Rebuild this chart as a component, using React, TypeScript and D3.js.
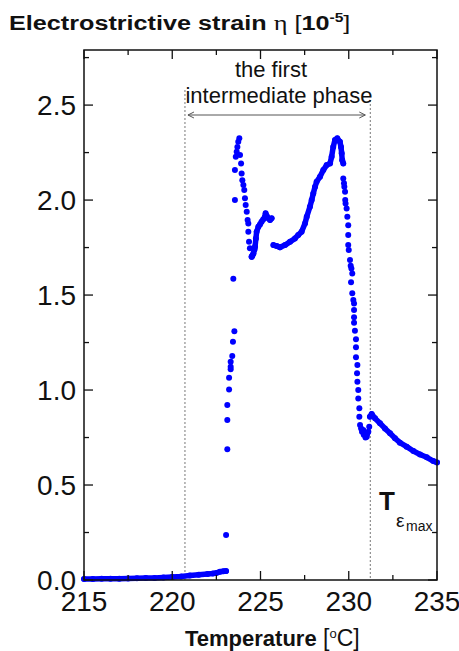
import React from "react";
import * as d3 from "d3";

// ---- data (temperature °C, strain 1e-5) ----
const baselineT = [215.0, 215.5, 216.0, 216.5, 217.0, 217.5, 218.0, 218.5, 219.0, 219.5, 220.0, 220.5, 221.0, 221.5, 222.0, 222.3, 222.5, 222.7, 222.9, 223.05];
const baselineV = [0.005, 0.005, 0.006, 0.006, 0.007, 0.008, 0.009, 0.010, 0.011, 0.013, 0.016, 0.019, 0.024, 0.028, 0.032, 0.034, 0.037, 0.043, 0.046, 0.047];

const jumpT = [223.05, 223.12, 223.12, 223.12, 223.22, 223.22, 223.31, 223.31, 223.31, 223.40, 223.44, 223.52, 223.46, 223.55, 223.55, 223.60, 223.65, 223.69, 223.74, 223.80, 223.84, 223.90, 223.93, 223.97, 224.03, 224.08, 224.12, 224.16, 224.22, 224.27, 224.31, 224.31, 224.35, 224.40, 224.50];
const jumpV = [0.237, 0.688, 0.842, 0.921, 1.003, 1.065, 1.109, 1.123, 1.149, 1.179, 1.254, 1.310, 1.586, 2.000, 2.158, 2.228, 2.254, 2.280, 2.307, 2.325, 2.237, 2.193, 2.140, 2.105, 2.079, 2.053, 2.009, 1.974, 1.939, 1.895, 1.877, 1.833, 1.780, 1.746, 1.702];

const riseT = [224.50, 224.55, 224.60, 224.66, 224.69, 224.74, 224.78, 224.88, 224.97, 225.06, 225.15, 225.25, 225.29, 225.36, 225.44, 225.54, 225.63];
const riseV = [1.702, 1.710, 1.719, 1.740, 1.754, 1.798, 1.833, 1.860, 1.872, 1.886, 1.898, 1.912, 1.930, 1.915, 1.904, 1.895, 1.904];

const peakT = [225.73, 225.92, 226.10, 226.39, 226.67, 226.95, 227.14, 227.33, 227.52, 227.62, 227.80, 227.90, 227.99, 228.09, 228.18, 228.37, 228.56, 228.75, 228.94, 229.03, 229.12, 229.22, 229.35, 229.50, 229.56, 229.60, 229.63, 229.69];
const peakV = [1.763, 1.758, 1.751, 1.763, 1.780, 1.798, 1.816, 1.833, 1.877, 1.912, 1.965, 2.000, 2.035, 2.070, 2.096, 2.123, 2.158, 2.184, 2.193, 2.228, 2.280, 2.316, 2.325, 2.307, 2.280, 2.246, 2.210, 2.193];

const fallT = [229.69, 229.73, 229.75, 229.79, 229.80, 229.82, 229.88, 229.92, 229.97, 229.97, 229.97, 230.00, 230.07, 230.11, 230.15, 230.20, 230.13, 230.20, 230.26, 230.30, 230.30, 230.30, 230.30, 230.35, 230.41, 230.41, 230.41, 230.49, 230.47, 230.49, 230.54, 230.54, 230.60, 230.60, 230.64, 230.70, 230.75, 230.82, 230.85, 230.92, 230.95, 231.02, 231.05, 231.11, 231.16];
const fallV = [2.114, 2.088, 2.070, 2.044, 2.000, 1.982, 1.956, 1.912, 1.868, 1.816, 1.763, 1.737, 1.684, 1.654, 1.640, 1.614, 1.567, 1.509, 1.474, 1.456, 1.421, 1.383, 1.354, 1.312, 1.267, 1.225, 1.172, 1.132, 1.088, 1.044, 1.000, 0.956, 0.904, 0.860, 0.816, 0.798, 0.780, 0.789, 0.765, 0.772, 0.750, 0.754, 0.770, 0.781, 0.807];

const tailT = [231.20, 231.30, 231.49, 231.77, 232.05, 232.34, 232.62, 232.90, 233.28, 233.66, 234.04, 234.42, 234.79, 235.00];
const tailV = [0.860, 0.874, 0.851, 0.825, 0.798, 0.772, 0.746, 0.723, 0.702, 0.679, 0.661, 0.646, 0.626, 0.619];

const xTicks = [215, 220, 225, 230, 235];
const xMinor = [217.5, 222.5, 227.5, 232.5];
const yTicks = [0, 0.5, 1.0, 1.5, 2.0, 2.5];
const yMinor = [0.25, 0.75, 1.25, 1.75, 2.25, 2.75];
const phaseStart = 220.72;
const phaseEnd = 231.22;

const W = 459, H = 651;
const M = { left: 84, right: 437, top: 50, bottom: 580 };
const FONT = "'Liberation Sans', Arial, Helvetica, sans-serif";
const BLUE = "#0000ff";

export default function App() {
  const x = d3.scaleLinear().domain([215, 235]).range([M.left, M.right]);
  const y = d3.scaleLinear().domain([0, 2.79]).range([M.bottom, M.top]);

  const zip = (a: number[], b: number[]) => a.map((t, i) => [t, b[i]] as [number, number]);
  const dense = [zip(baselineT, baselineV), zip(riseT, riseV), zip(peakT, peakV), zip(tailT, tailV)];
  const sparse = [...zip(jumpT, jumpV), ...zip(fallT, fallV)];
  const line = d3.line<[number, number]>().x(d => x(d[0])).y(d => y(d[1])).curve(d3.curveLinear);

  const xs = x(phaseStart), xe = x(phaseEnd);
  const ay = 115;

  return (
    <svg width={W} height={H} style={{ position: "absolute", left: 0, top: 0, background: "#fff" }} fontFamily={FONT}>
      {/* title */}
      <text transform="translate(9,30) scale(1.2,1)" fontSize={21} fontWeight="bold" fill="#111">
        Electrostrictive strain{" "}
        <tspan fontFamily="'Liberation Serif', 'Times New Roman', serif" fontWeight="normal" fontSize={22}>η</tspan>
        <tspan fontWeight="normal"> [</tspan>10
        <tspan dy={-8} fontSize={13}>-5</tspan>
        <tspan dy={8} fontWeight="normal">]</tspan>
      </text>

      {/* phase lines */}
      <line x1={xs} x2={xs} y1={90} y2={M.bottom} stroke="#777" strokeWidth={1} strokeDasharray="2,2" />
      <line x1={xe} x2={xe} y1={100} y2={M.bottom} stroke="#777" strokeWidth={1} strokeDasharray="2,2" />
      <line x1={xs + 3} x2={xe - 5} y1={ay} y2={ay} stroke="#555" strokeWidth={1} />
      <path d={`M${xs + 9},${ay - 3} L${xs + 3},${ay} L${xs + 9},${ay + 3}`} fill="none" stroke="#555" strokeWidth={1} />
      <path d={`M${xe - 11},${ay - 3} L${xe - 5},${ay} L${xe - 11},${ay + 3}`} fill="none" stroke="#555" strokeWidth={1} />
      <text x={271} y={77} fontSize={22} textAnchor="middle" fill="#111">the first</text>
      <text x={279} y={103} fontSize={22} textAnchor="middle" fill="#111">intermediate phase</text>

      {/* data */}
      {dense.map((seg, i) => (
        <g key={i}>
          <path d={line(seg) || ""} fill="none" stroke={BLUE} strokeWidth={5.5} strokeLinecap="round" strokeLinejoin="round" />
          {seg.map((d, j) => <circle key={j} cx={x(d[0])} cy={y(d[1])} r={3} fill={BLUE} />)}
        </g>
      ))}
      {sparse.map((d, i) => <circle key={i} cx={x(d[0])} cy={y(d[1])} r={3} fill={BLUE} />)}

      {/* frame */}
      <rect x={M.left} y={M.top} width={M.right - M.left} height={M.bottom - M.top} fill="none" stroke="#111" strokeWidth={1.5} />
      {xTicks.map(t => (
        <g key={"xt" + t}>
          <line x1={x(t)} x2={x(t)} y1={M.bottom} y2={M.bottom - 9} stroke="#111" strokeWidth={1.3} />
          <line x1={x(t)} x2={x(t)} y1={M.top} y2={M.top + 9} stroke="#111" strokeWidth={1.3} />
          <text x={x(t)} y={611} fontSize={28} textAnchor="middle" fill="#111">{t}</text>
        </g>
      ))}
      {xMinor.map(t => (
        <g key={"xm" + t}>
          <line x1={x(t)} x2={x(t)} y1={M.bottom} y2={M.bottom - 5} stroke="#111" strokeWidth={1.3} />
          <line x1={x(t)} x2={x(t)} y1={M.top} y2={M.top + 5} stroke="#111" strokeWidth={1.3} />
        </g>
      ))}
      {yTicks.map(t => (
        <g key={"yt" + t}>
          <line x1={M.left} x2={M.left + 9} y1={y(t)} y2={y(t)} stroke="#111" strokeWidth={1.3} />
          <line x1={M.right} x2={M.right - 9} y1={y(t)} y2={y(t)} stroke="#111" strokeWidth={1.3} />
          <text x={76} y={y(t) + 10} fontSize={28} textAnchor="end" fill="#111">{t.toFixed(1)}</text>
        </g>
      ))}
      {yMinor.map(t => (
        <g key={"ym" + t}>
          <line x1={M.left} x2={M.left + 5} y1={y(t)} y2={y(t)} stroke="#111" strokeWidth={1.3} />
          <line x1={M.right} x2={M.right - 5} y1={y(t)} y2={y(t)} stroke="#111" strokeWidth={1.3} />
        </g>
      ))}

      {/* x label */}
      <text x={185} y={646} fontSize={22} fill="#111">
        <tspan fontWeight="bold">Temperature</tspan>
        <tspan fontSize={23}> [</tspan>
        <tspan dy={-8} fontSize={13}>o</tspan>
        <tspan dy={8} fontSize={23}>C]</tspan>
      </text>

      {/* T eps max */}
      <text x={379} y={510} fontSize={26} fontWeight="bold" fill="#111">T</text>
      <text x={396} y={527} fontSize={19} fill="#111">ε</text>
      <text x={406} y={531} fontSize={14} fill="#111">max</text>
    </svg>
  );
}
